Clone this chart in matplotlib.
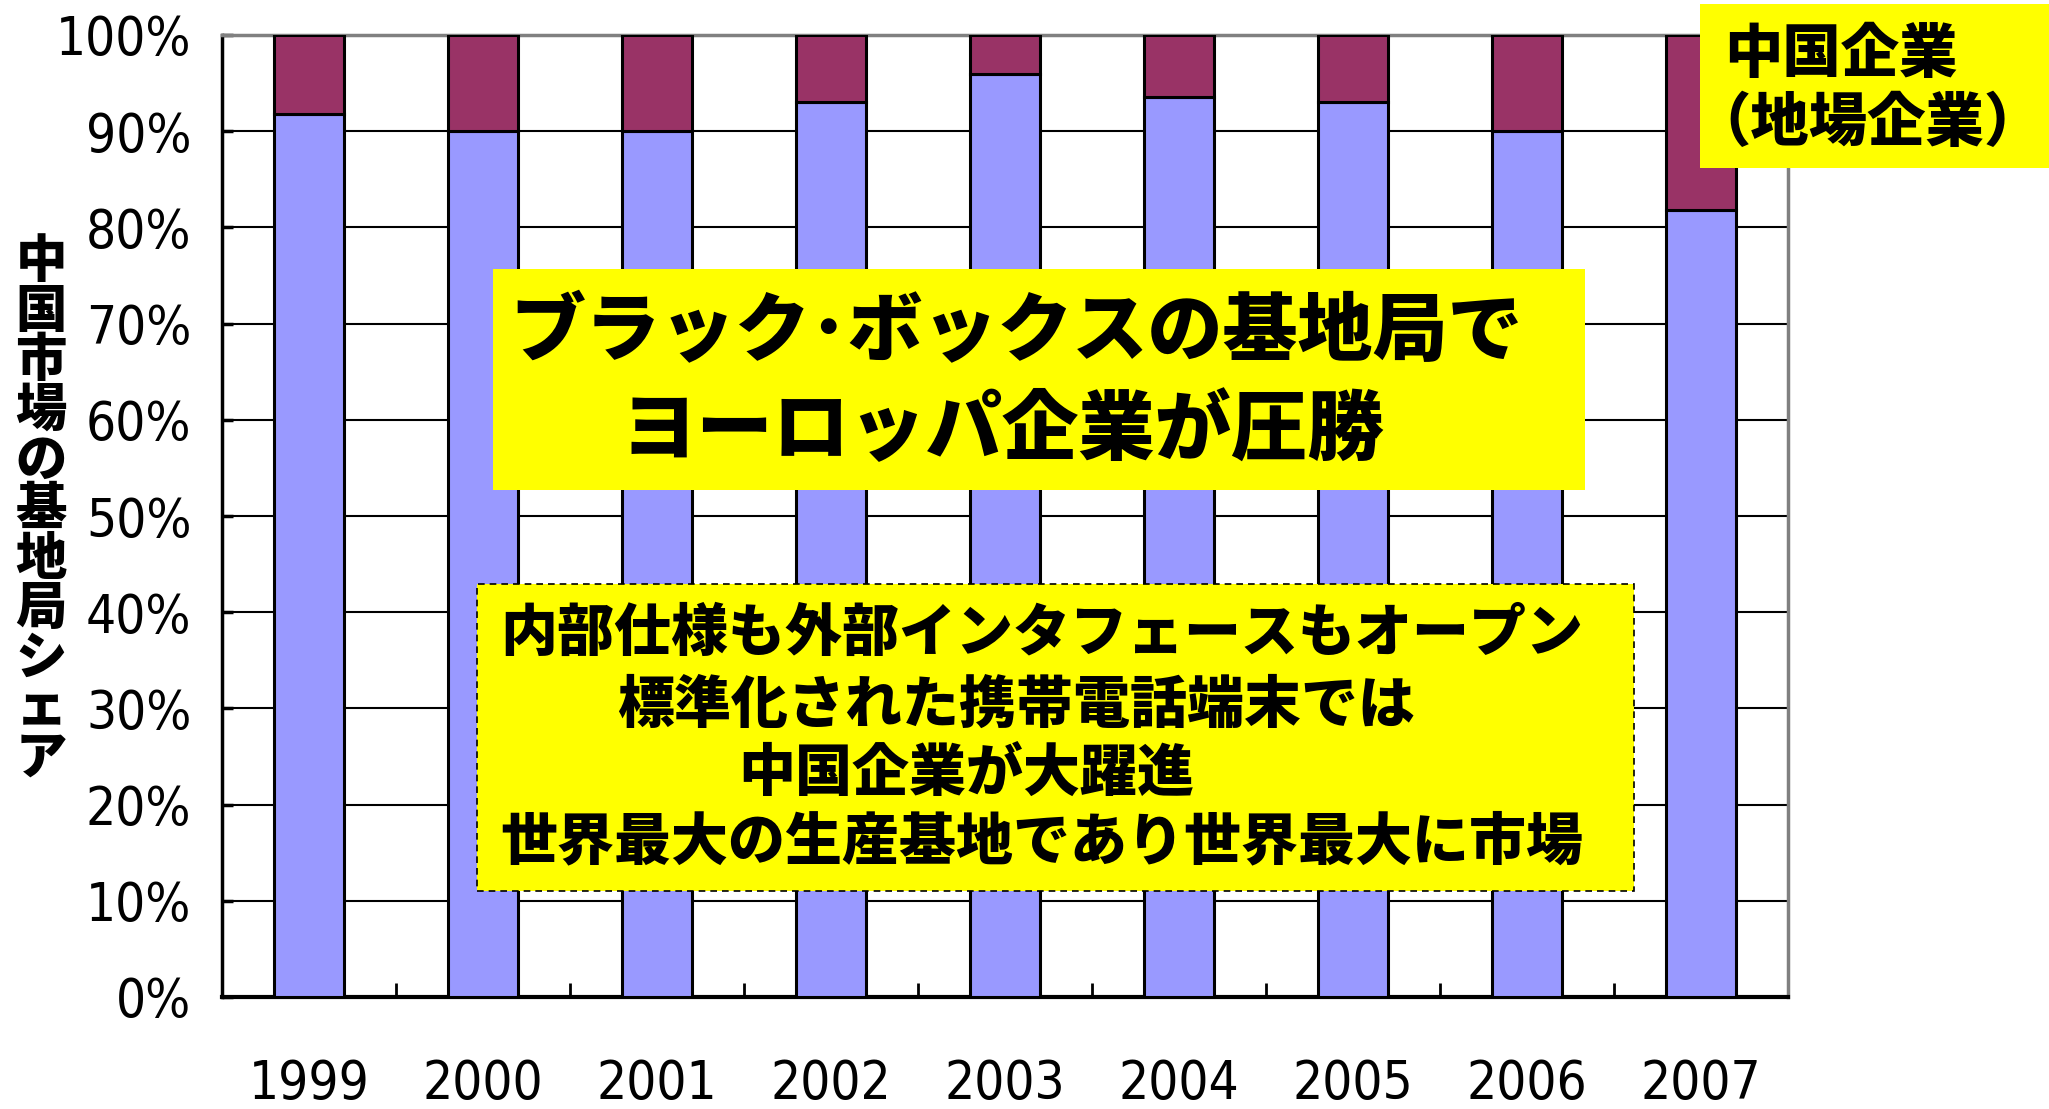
import matplotlib
matplotlib.use("Agg")
import matplotlib.pyplot as plt
from matplotlib.patches import Rectangle
import numpy as np

# ---- data ------------------------------------------------------------------
years = ["1999", "2000", "2001", "2002", "2003", "2004", "2005", "2006", "2007"]
foreign_share = [91.8, 90.0, 90.0, 93.0, 95.9, 93.6, 93.0, 90.0, 81.8]   # lower (blue) segment
chinese_share = [8.2, 10.0, 10.0, 7.0, 4.1, 6.4, 7.0, 10.0, 18.2]        # upper (maroon) segment
yticks = [0, 10, 20, 30, 40, 50, 60, 70, 80, 90, 100]
ylabel_text = "中国市場の基地局シェア"
headline = ["ブラック･ボックスの基地局で", "ヨーロッパ企業が圧勝"]
note_lines = ["内部仕様も外部インタフェースもオープン",
              "標準化された携帯電話端末では",
              "中国企業が大躍進",
              "世界最大の生産基地であり世界最大に市場"]
legend_lines = ["中国企業", "（地場企業）"]

BLUE, MAROON, YELLOW, GREY = "#9999FF", "#993366", "#FFFF00", "#808080"
JP = ["Noto Sans CJK JP", "DejaVu Sans"]
NUM = ["DejaVu Sans"]
W, H = 2049, 1109


def fx(x):
    return x / W


def fy(y):
    return 1 - y / H


fig = plt.figure(figsize=(W / 100, H / 100), dpi=100)
ax = fig.add_axes([fx(222), fy(997), fx(1788) - fx(222), fy(35) - fy(997)])

x = np.arange(len(years))
ax.bar(x, foreign_share, width=0.4, color=BLUE, edgecolor="black", lw=2.2, zorder=3)
ax.bar(x, chinese_share, bottom=foreign_share, width=0.4, color=MAROON,
       edgecolor="black", lw=2.2, zorder=3)

ax.set_xlim(-0.5, len(years) - 0.5)
ax.set_ylim(0, 100)
ax.set_yticks(yticks)
ax.set_yticklabels([f"{v}%" for v in yticks], family=NUM, stretch="condensed", fontsize=38)
ax.set_xticks(x)
ax.set_xticklabels(years, family=NUM, stretch="condensed", fontsize=38)
ax.set_xticks(np.arange(len(years) + 1) - 0.5, minor=True)
ax.tick_params(axis="x", which="major", length=0, pad=44)
ax.tick_params(axis="x", which="minor", direction="in", length=10, width=2)
ax.tick_params(axis="y", direction="in", length=8, width=2.5, pad=22)
for v in yticks[1:-1]:
    ax.axhline(v, color="black", lw=1.5, zorder=1)
ax.spines["left"].set_linewidth(2.5)
ax.spines["bottom"].set_linewidth(3)
for s in ("top", "right"):
    ax.spines[s].set_color(GREY)
    ax.spines[s].set_linewidth(2.5)

# vertical y-axis title, one character per line
for i, ch in enumerate(ylabel_text):
    fig.text(fx(41), fy(262 + 49.6 * i), ch, family=JP, fontweight="heavy", fontsize=37,
             ha="center", va="center")

# headline box
fig.patches.append(Rectangle((fx(493), fy(490)), fx(1585) - fx(493), fy(269) - fy(490),
                             transform=fig.transFigure, facecolor=YELLOW, edgecolor="none",
                             zorder=5))
fig.text(fx(510), fy(333), headline[0], family=JP, fontweight="heavy", fontsize=54,
         ha="left", va="center", zorder=6)
fig.text(fx(620), fy(431), headline[1], family=JP, fontweight="heavy", fontsize=55,
         ha="left", va="center", zorder=6)

# dashed note box
fig.patches.append(Rectangle((fx(477), fy(891)), fx(1634) - fx(477), fy(584) - fy(891),
                             transform=fig.transFigure, facecolor=YELLOW, edgecolor="black",
                             lw=1.2, ls=(0, (4, 3)), zorder=5))
for (lx, ly), line in zip([(500, 634), (617, 706), (738, 774), (500, 843)], note_lines):
    fig.text(fx(lx), fy(ly), line, family=JP, fontweight="heavy", fontsize=41,
             ha="left", va="center", zorder=6)

# legend-like box, top right
fig.patches.append(Rectangle((fx(1700), fy(168)), fx(W + 5) - fx(1700), fy(4) - fy(168),
                             transform=fig.transFigure, facecolor=YELLOW, edgecolor="none",
                             zorder=5))
fig.text(fx(1841), fy(55), legend_lines[0], family=JP, fontweight="heavy", fontsize=42,
         ha="center", va="center", zorder=6)
fig.text(fx(1867), fy(124), legend_lines[1], family=JP, fontweight="heavy", fontsize=42,
         ha="center", va="center", zorder=6)

# clipped remains of a title line above the frame
fig.text(fx(1001), fy(4), "（", family=JP, fontsize=40, color="black", ha="left", va="bottom")
fig.text(fx(1292), fy(4), "）", family=JP, fontsize=40, color="#FF0000", ha="left", va="bottom")

fig.savefig("out.png", dpi=100)
